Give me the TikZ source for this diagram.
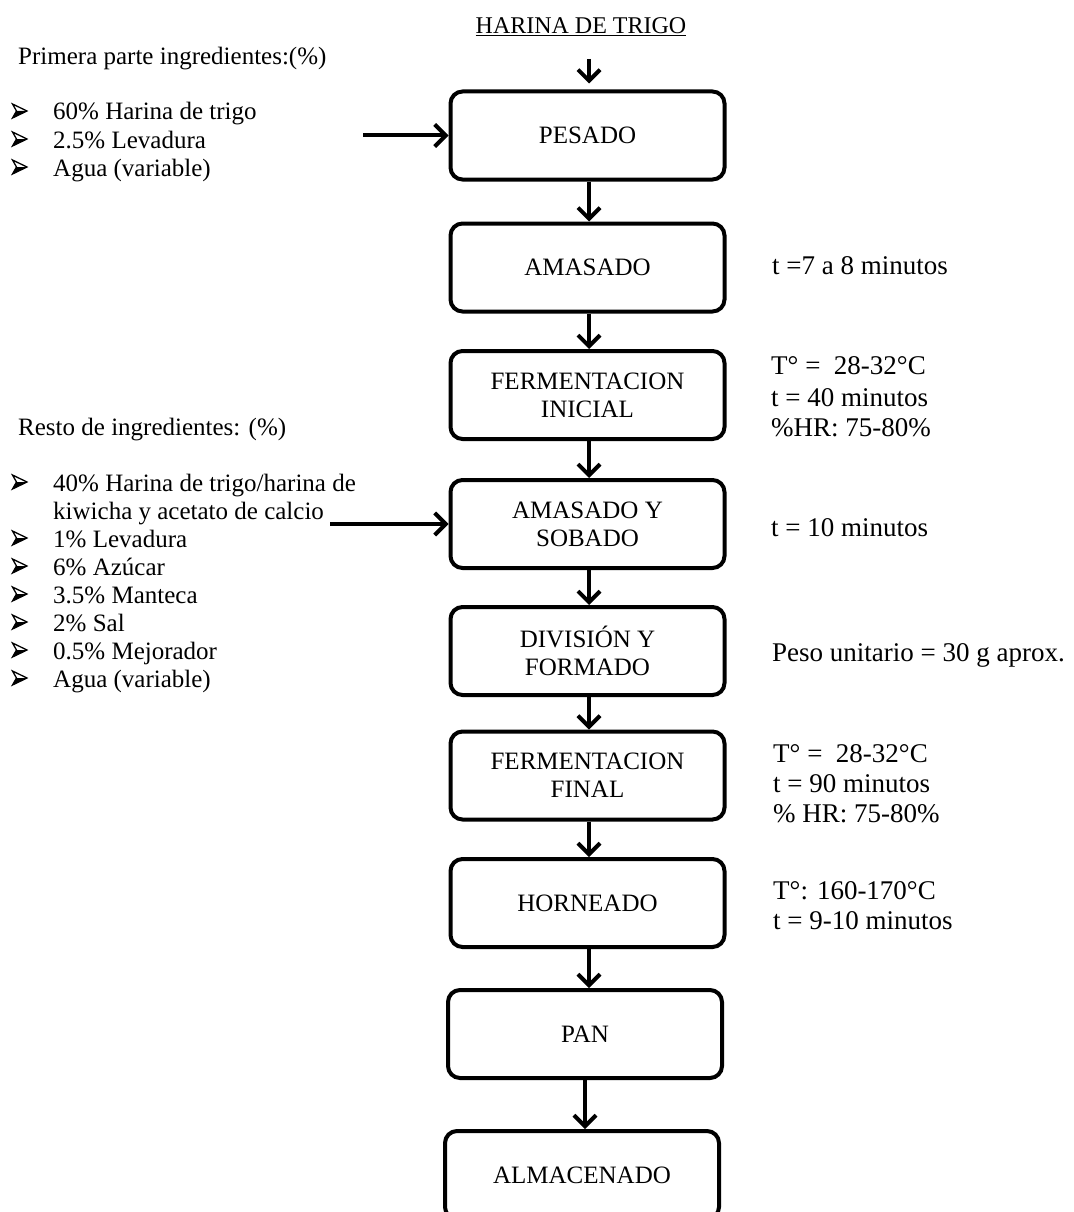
\documentclass[tikz,border=0pt]{standalone}
\usepackage{fontspec}
\setmainfont{Liberation Serif}
\usetikzlibrary{arrows.meta}
\tikzset{
  stepbox/.style={draw, line width=4pt, rounded corners=12pt, minimum width=274pt, minimum height=88pt,
    align=center, inner sep=0pt, font=\fontsize{25}{28}\selectfont},
  arr/.style={line width=4pt, -{Straight Barb[length=11pt,width=22pt]}},
  lefttxt/.style={anchor=base west, inner sep=0pt, font=\fontsize{25}{28}\selectfont},
  righttxt/.style={anchor=base west, inner sep=0pt, font=\fontsize{27}{31}\selectfont},
  bulletmark/.pic={
    \draw[line width=1.3pt, line join=miter] (-7,-7) -- (7.5,0) -- (-7,7) -- (-3,0) -- cycle;
    \fill (-3,0) -- (7.5,0) -- (-7,7) -- cycle;
  },
}
\begin{document}
\begin{tikzpicture}[x=1pt,y=-1pt]
\useasboundingbox (0,0) rectangle (1073,1212);
\fill[white] (0,0) rectangle (1073,1212);

% title
\node[inner sep=0pt, font=\fontsize{24}{28}\selectfont] (harina) at (581,27) {\underline{HARINA DE TRIGO}};

% process boxes
\node[stepbox] (pesado) at (587.5,135.5) {PESADO};
\node[stepbox] (amasado) at (587.5,267.5) {AMASADO};
\node[stepbox] (fermi) at (587.5,395) {FERMENTACION\\INICIAL};
\node[stepbox] (sobado) at (587.5,524) {AMASADO Y\\SOBADO};
\node[stepbox] (division) at (587.5,651) {DIVISIÓN Y\\FORMADO};
\node[stepbox] (fermf) at (587.5,775.5) {FERMENTACION\\FINAL};
\node[stepbox] (horneado) at (587.5,903) {HORNEADO};
\node[stepbox] (pan) at (585,1034) {PAN};
\node[stepbox] (almacenado) at (582,1175) {ALMACENADO};

% vertical arrows
\coordinate (topin) at (589,59);
\draw[arr] (topin) -- ([yshift=6pt]pesado.north -| topin);
\draw[arr] (pesado) ++(1.5,46) coordinate (a1) -- (amasado.north -| a1);
\draw[arr] (amasado) ++(1.5,46) coordinate (a2) -- (fermi.north -| a2);
\draw[arr] (fermi) ++(1.5,46) coordinate (a3) -- (sobado.north -| a3);
\draw[arr] (sobado) ++(1.5,46) coordinate (a4) -- (division.north -| a4);
\draw[arr] (division) ++(1.5,46) coordinate (a5) -- (fermf.north -| a5);
\draw[arr] (fermf) ++(1.5,46) coordinate (a6) -- (horneado.north -| a6);
\draw[arr] (horneado) ++(1.5,46) coordinate (a7) -- (pan.north -| a7);
\draw[arr] (pan) ++(0,46) coordinate (a8) -- (almacenado.north -| a8);

% side inputs
\coordinate (in1) at (363,135.5);
\draw[arr] (in1) -- (pesado.west);
\coordinate (in2) at (330,524);
\draw[arr] (in2) -- (sobado.west);

% left texts: first part
\node[lefttxt] (p0) at (18,65) {Primera parte ingredientes:(\%)};
\pic at (19.5,111) {bulletmark};
\node[lefttxt] (p1) at (53,120) {60\% Harina de trigo};
\pic at (19.5,139) {bulletmark};
\node[lefttxt] (p2) at (53,148) {2.5\% Levadura};
\pic at (19.5,167) {bulletmark};
\node[lefttxt] (p3) at (53,176) {Agua (variable)};

% left texts: rest
\node[lefttxt] (r0) at (18,435) {Resto de ingredientes: (\%)};
\pic at (19.5,482) {bulletmark};
\node[lefttxt] (r1) at (53,491) {40\% Harina de trigo/harina de};
\node[lefttxt] (r1b) at (53,519) {kiwicha y acetato de calcio};
\pic at (19.5,538) {bulletmark};
\node[lefttxt] (r2) at (53,547) {1\% Levadura};
\pic at (19.5,566) {bulletmark};
\node[lefttxt] (r3) at (53,575) {6\% Azúcar};
\pic at (19.5,594) {bulletmark};
\node[lefttxt] (r4) at (53,603) {3.5\% Manteca};
\pic at (19.5,622) {bulletmark};
\node[lefttxt] (r5) at (53,631) {2\% Sal};
\pic at (19.5,650) {bulletmark};
\node[lefttxt] (r6) at (53,659) {0.5\% Mejorador};
\pic at (19.5,678) {bulletmark};
\node[lefttxt] (r7) at (53,687) {Agua (variable)};

% right texts
\node[righttxt] (t1) at (772,274) {t =7 a 8 minutos};
\node[righttxt] (t2a) at (771,374) {T° = \ 28-32°C};
\node[righttxt] (t2b) at (771,406) {t = 40 minutos};
\node[righttxt] (t2c) at (771,436) {\%HR: 75-80\%};
\node[righttxt] (t3) at (771,536) {t = 10 minutos};
\node[righttxt] (t4) at (772,661) {Peso unitario = 30 g aprox.};
\node[righttxt] (t5a) at (773,762) {T° = \ 28-32°C};
\node[righttxt] (t5b) at (773,792) {t = 90 minutos};
\node[righttxt] (t5c) at (773,822) {\% HR: 75-80\%};
\node[righttxt] (t6a) at (773,899) {T°: 160-170°C};
\node[righttxt] (t6b) at (773,929) {t = 9-10 minutos};
\end{tikzpicture}
\end{document}
